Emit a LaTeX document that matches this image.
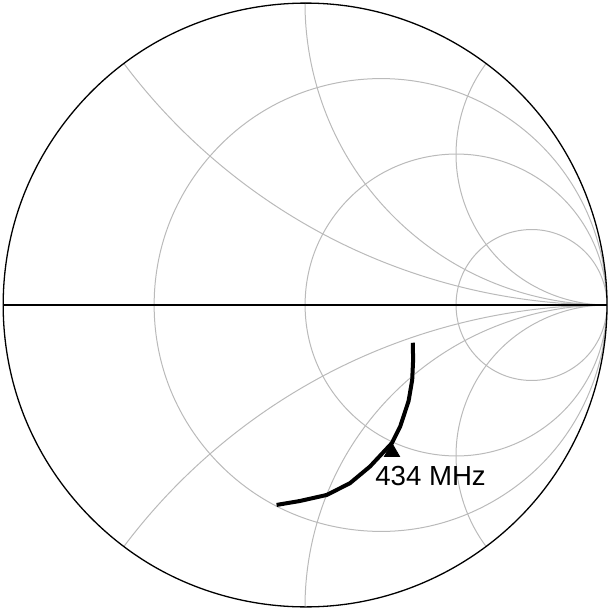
\documentclass[border=0pt]{standalone}
\usepackage{fontspec}
\setmainfont{Liberation Sans}
\usepackage{pgfplots}
\pgfplotsset{compat=1.18}
\usepgfplotslibrary{smithchart}
\begin{document}
\begin{tikzpicture}
\begin{smithchart}[
  at={(0,0)}, anchor=center,
  scale only axis,
  width=302pt, height=302pt,
  xtick={0.333333,1,3},
  ytick={-2,-1,-0.5,0.5,1,2},
  minor xtick={}, minor ytick={},
  xgrid each nth passes y={},
  ygrid each nth passes x={},
  xticklabels={}, yticklabels={},
  major tick length=0pt,
  grid=major,
  grid style={black!27, line width=0.5pt},
  extra y ticks={0},
  extra y tick labels={},
  extra y tick style={grid style={black, line width=0.6pt}},
  axis line style={black, line width=0.65pt},
]
\addplot[is smithchart cs, black, line width=2pt, no marks] coordinates {
(0.357,-0.125) (0.358,-0.182) (0.355,-0.248) (0.343,-0.318) (0.315,-0.403)
(0.288,-0.457) (0.215,-0.535) (0.149,-0.590) (0.072,-0.629) (-0.017,-0.649)
(-0.094,-0.662)
};
\addplot[is smithchart cs, only marks, mark=triangle*, mark size=4.4pt,
  mark options={black, fill=black},
  nodes near coords={434 MHz},
  every node near coord/.append style={anchor=base west, inner sep=0pt,
    font=\fontsize{13.8}{16}\selectfont, xshift=-8.5pt, yshift=-16.5pt}]
  coordinates {(0.288,-0.487)};
\end{smithchart}
\pgfresetboundingbox
\path[use as bounding box] (-152.5pt,-152.5pt) rectangle (152.5pt,152.5pt);
\end{tikzpicture}
\end{document}
